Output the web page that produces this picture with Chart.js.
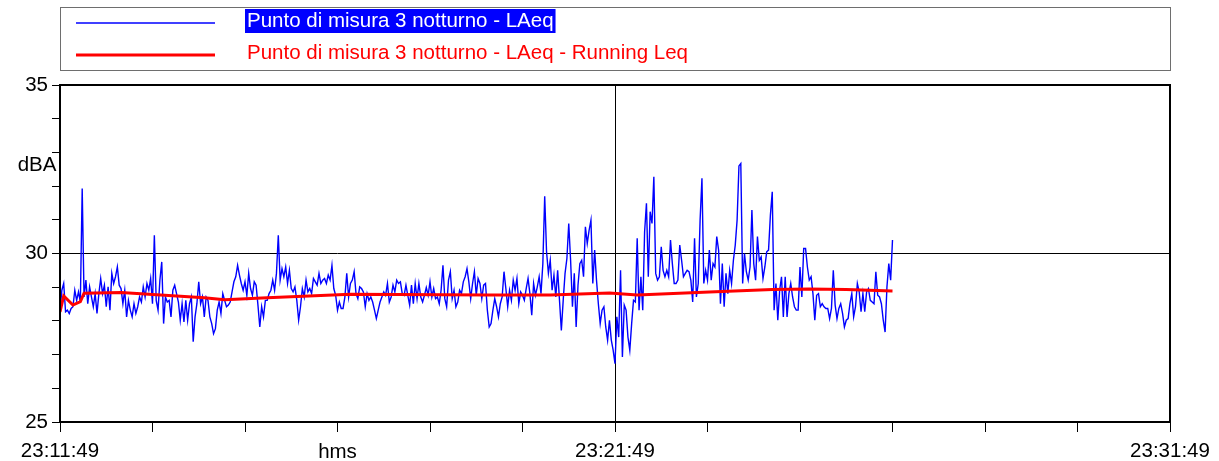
<!DOCTYPE html>
<html>
<head>
<meta charset="utf-8">
<script src="https://cdn.jsdelivr.net/npm/chart.js@4/dist/chart.umd.min.js"></script>
<style>
  html, body { margin: 0; padding: 0; background: #fff; }
  #wrap { width: 1219px; height: 461px; position: relative; }
</style>
</head>
<body>
<div id="wrap"><canvas id="noiseChart"></canvas></div>
<script>
// Sampling step of the LAeq series, seconds from 23:11:49
const SAMPLE_S = 2;

// LAeq, dBA (one value every SAMPLE_S seconds)
const laeq = [
  28.27, 28.91, 29.11, 28.27, 28.32, 28.22, 28.37, 28.42, 28.91, 28.61,
  28.86, 28.56, 31.93, 28.71, 29.21, 28.51, 29.01, 28.71, 28.42, 28.81,
  28.22, 28.81, 29.26, 28.81, 29.06, 28.42, 29.01, 28.32, 29.41, 29.11,
  29.31, 29.60, 29.06, 28.96, 28.51, 28.91, 28.12, 28.61, 28.32, 28.12,
  28.51, 28.22, 28.42, 28.71, 28.56, 29.01, 28.71, 29.11, 28.91, 29.26,
  28.51, 30.54, 28.61, 28.32, 29.21, 29.75, 27.92, 28.71, 28.56, 28.61,
  28.12, 28.91, 29.06, 28.81, 28.56, 28.02, 28.51, 27.97, 28.61, 28.02,
  28.51, 28.71, 27.38, 28.12, 28.51, 29.16, 28.51, 28.71, 28.12,
  28.71, 28.61, 28.12, 27.92, 27.62, 27.77, 28.32, 28.56, 28.22, 28.81,
  28.61, 28.42, 28.47, 28.56, 28.86, 29.16, 29.31, 29.65, 29.36, 29.11,
  28.91, 29.16, 28.76, 29.41, 28.96, 28.76, 29.16, 29.06, 28.47, 27.82,
  28.42, 28.12, 28.61, 28.61, 28.81, 28.91, 29.21, 28.91, 29.41, 30.54,
  29.21, 29.55, 29.31, 29.60, 29.11, 29.50, 28.96, 28.86, 29.01, 28.61,
  28.02, 28.42, 28.96, 28.71, 29.21, 28.86, 28.96, 28.81, 29.26, 29.16,
  29.06, 29.41, 29.11, 29.21, 29.26, 29.11, 29.36, 29.21, 29.65, 28.96,
  28.76, 28.32, 28.56, 28.37, 28.37, 28.71, 29.41, 28.71,
  29.11, 29.21, 29.46, 28.81, 28.66, 29.01, 28.96, 28.86, 28.42, 28.81,
  28.61, 28.71, 28.56, 28.32, 28.07, 28.32, 28.56, 28.71, 28.86, 28.76,
  29.11, 28.56, 28.71, 29.06, 28.86, 29.21, 29.11, 29.16, 28.81, 28.76,
  29.06, 28.76, 28.47, 29.06, 28.51, 29.11, 28.66, 29.11, 28.71, 28.56,
  28.76, 28.99, 28.76, 29.16, 28.71, 28.96, 28.66, 28.71, 28.51, 28.91,
  29.65, 28.66, 28.42, 29.21, 29.46, 28.66, 28.91, 28.42, 28.56, 28.91,
  28.81, 29.16, 29.31, 29.55, 29.16, 28.66, 29.11, 29.46, 28.76, 29.26,
  29.11, 28.66, 29.06, 29.11, 28.32, 27.82,
  27.92, 28.32, 28.66, 28.42, 28.12, 28.51, 28.71, 29.46, 28.96, 28.42,
  28.91, 28.61, 29.21, 28.91, 29.26, 28.51, 28.86, 28.76, 28.61, 28.96,
  29.26, 28.81, 28.17, 29.11, 28.76, 29.01, 29.31, 28.81, 29.70, 31.70,
  30.05, 29.41, 29.80, 28.91, 29.36, 28.71, 29.50, 28.61, 27.72, 28.61,
  29.41, 29.85, 30.89, 29.80, 28.42, 29.41, 27.82, 29.06, 29.70, 29.80,
  29.31, 30.79, 30.30, 30.69, 30.99, 29.11, 30.10, 29.21, 28.51, 27.92,
  28.32, 28.42, 27.82, 27.43, 28.02,
  27.43, 27.13, 26.73, 28.12, 27.52, 29.50, 26.93, 28.47, 28.32, 27.52,
  27.13, 27.92, 28.61, 28.56, 30.45, 28.32, 29.31, 28.32, 30.64, 31.49,
  29.31, 31.24, 30.89, 32.28, 29.41, 29.21, 29.31, 30.20, 29.50, 29.31,
  29.50, 29.31, 30.40, 29.70, 29.11, 29.11, 29.21, 30.25, 29.80, 29.31,
  29.41, 29.50, 29.46, 29.21, 28.56, 30.45, 28.71, 29.11, 30.99, 32.23,
  29.11, 29.50, 29.21, 30.10,
  29.21, 29.70, 29.60, 30.50, 30.10, 28.51, 29.70, 28.42, 29.41, 28.81,
  29.50, 29.11, 29.80, 30.25, 30.99, 32.60, 32.67, 29.11, 30.00, 29.46,
  29.21, 29.60, 31.29, 29.70, 29.21, 30.50, 29.80, 29.90, 29.26, 29.60,
  30.05, 30.10, 31.14, 31.83, 28.32, 29.11, 28.02, 28.91, 29.31, 28.12,
  29.31, 28.12, 28.81, 29.11, 28.71, 28.42, 28.32, 28.32, 29.60, 28.71,
  30.15, 30.15, 29.60, 29.21,
  29.31, 28.81, 28.02, 28.76, 28.81, 28.42, 28.51, 28.42, 28.37, 28.37,
  28.07, 28.37, 29.50, 28.47, 28.07, 28.37, 28.51, 28.22, 27.82, 28.02,
  28.07, 28.51, 28.81, 28.12, 28.42, 29.11, 28.86, 28.27, 28.81, 28.27,
  28.86, 28.96, 28.61, 28.56, 28.51, 29.46, 28.76, 28.71, 28.51, 28.02,
  27.67, 29.01, 29.70, 29.21, 30.40
];

// Running Leq, read at these seconds
const runTimes = [0, 4, 14, 22, 26, 66, 156, 178, 224, 314, 464, 530, 594, 624, 702, 770, 810, 850, 900];
const runLeq   = [28.27, 28.74, 28.47, 28.57, 28.82, 28.84, 28.69, 28.63, 28.69, 28.79, 28.77, 28.77, 28.83, 28.77, 28.86, 28.93, 28.95, 28.93, 28.89];

// Axis ticks
const xTickValues = [0, 600, 1200];
const xTickLabels = ["23:11:49", "23:21:49", "23:31:49"];
const yTickValues = [25, 30, 35];

const FONT = "Liberation Sans, Arial, sans-serif";
const FONT_SIZE = 20.5;

const blueData = laeq.map((v, i) => ({ x: i * SAMPLE_S, y: v }));
const redData = runTimes.map((t, i) => ({ x: t, y: runLeq[i] }));

// legend box, plot frame and the two free labels
const decor = {
  id: "decor",
  afterDraw(chart) {
    const c = chart.ctx;
    const a = chart.chartArea;
    const ds = chart.data.datasets;
    c.save();

    // frame
    c.strokeStyle = "#000";
    c.lineWidth = 2;
    c.strokeRect(a.left, a.top, a.right - a.left, a.bottom - a.top);

    // legend
    c.lineWidth = 1;
    c.strokeStyle = "#6e6e6e";
    c.strokeRect(a.left + 0.5, 7.5, a.right - a.left, 63);
    c.font = FONT_SIZE + "px " + FONT;
    c.textBaseline = "middle";
    c.textAlign = "left";

    // entry 1
    c.strokeStyle = ds[0].borderColor;
    c.lineWidth = 1.4;
    c.beginPath(); c.moveTo(76, 23); c.lineTo(215, 23); c.stroke();
    const w1 = c.measureText(ds[0].label).width;
    c.fillStyle = "#0000ff";
    c.fillRect(245, 9, w1 + 4, 24);
    c.fillStyle = "#fff";
    c.fillText(ds[0].label, 247, 21);

    // entry 2
    c.strokeStyle = ds[1].borderColor;
    c.lineWidth = 3;
    c.beginPath(); c.moveTo(76, 55); c.lineTo(215, 55); c.stroke();
    c.fillStyle = ds[1].borderColor;
    c.fillText(ds[1].label, 247, 53);

    // axis names
    c.fillStyle = "#000";
    c.textAlign = "center";
    c.fillText("dBA", 37, 165);
    c.fillText("hms", chart.scales.x.getPixelForValue(300), 452);
    c.restore();
  }
};

new Chart(document.getElementById("noiseChart"), {
  type: "line",
  data: {
    datasets: [
      {
        label: "Punto di misura 3 notturno - LAeq",
        data: blueData,
        borderColor: "#0000ff",
        borderWidth: 1.4,
        pointRadius: 0,
        tension: 0,
        order: 1
      },
      {
        label: "Punto di misura 3 notturno - LAeq - Running Leq",
        data: redData,
        borderColor: "#ff0000",
        borderWidth: 3,
        pointRadius: 0,
        tension: 0,
        order: 0
      }
    ]
  },
  options: {
    responsive: true,
    maintainAspectRatio: false,
    animation: false,
    layout: { padding: { left: 0, right: 49, top: 85, bottom: 0 } },
    plugins: { legend: { display: false }, tooltip: { enabled: false } },
    scales: {
      x: {
        type: "linear",
        min: 0,
        max: 1200,
        afterFit: (s) => { s.height = 39; },
        border: { display: false },
        grid: {
          color: (ctx) => (ctx.tick && ctx.tick.value === 600 ? "#000" : "rgba(0,0,0,0)"),
          tickColor: "#000",
          tickLength: 10,
          lineWidth: 1
        },
        ticks: {
          stepSize: 100,
          autoSkip: false,
          maxRotation: 0,
          padding: 7,
          color: "#000",
          font: { family: FONT, size: FONT_SIZE },
          callback: (v) => {
            const k = xTickValues.indexOf(v);
            return k >= 0 ? xTickLabels[k] : "";
          }
        }
      },
      y: {
        min: 25,
        max: 35,
        afterFit: (s) => { s.width = 60; },
        border: { display: false },
        grid: {
          color: (ctx) => (ctx.tick && ctx.tick.value === 30 ? "#000" : "rgba(0,0,0,0)"),
          tickColor: "#000",
          tickLength: 8,
          lineWidth: 1
        },
        ticks: {
          stepSize: 1,
          autoSkip: false,
          padding: 4,
          color: "#000",
          font: { family: FONT, size: FONT_SIZE },
          callback: (v) => (yTickValues.includes(v) ? String(v) : "")
        }
      }
    }
  },
  plugins: [decor]
});
</script>
</body>
</html>
